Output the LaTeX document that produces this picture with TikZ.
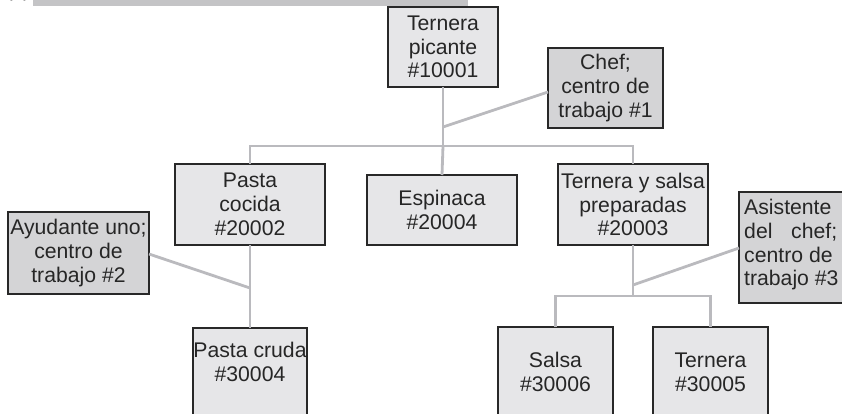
\documentclass[tikz,border=0pt]{standalone}
\usepackage{fontspec}
\setmainfont{Liberation Sans}
\definecolor{boxlight}{RGB}{230,230,232}
\definecolor{boxdark}{RGB}{212,212,214}
\definecolor{linegray}{RGB}{186,186,190}
\definecolor{bargray}{RGB}{196,196,198}
\definecolor{edgegray}{RGB}{40,40,40}
\tikzset{
  x=1pt, y=-1pt,
  itembox/.style={draw=edgegray, line width=1.3pt, fill=boxlight},
  centerbox/.style={draw=edgegray, line width=1.3pt, fill=boxdark},
  boxtext/.style={font=\fontsize{21.2}{23.8}\selectfont, align=center, inner sep=0pt, text=black!85},
  link/.style={draw=linegray, line width=2.8pt}
}
\begin{document}
\begin{tikzpicture}
\useasboundingbox (0,0) rectangle (842,413);
% cropped header
\fill[bargray] (33,-5) rectangle (468,6);
\node[boxtext, anchor=south] (lbl) at (18,1.5) {(c)};
% boxes
\draw[itembox] (388,7) rectangle (498,87);
\node[boxtext] (tp) at (443,47) {Ternera\\picante\\\#10001};
\coordinate (tpB) at (443,87);
\draw[centerbox] (548,48) rectangle (663,128);
\node[boxtext] (chef) at (605.5,88) {Chef;\\centro de\\trabajo \#1};
\coordinate (chefW) at (548,92);

\draw[itembox] (175,164) rectangle (325,245);
\node[boxtext] (pc) at (250,204.5) {Pasta\\cocida\\\#20002};
\draw[itembox] (367,175) rectangle (517,245);
\node[boxtext] (esp) at (442,210) {Espinaca\\\#20004};
\draw[itembox] (558,164) rectangle (708,245);
\node[boxtext] (tys) at (633,204.5) {Ternera y salsa\\preparadas\\\#20003};

\draw[centerbox] (8,212) rectangle (149,294);
\node[boxtext] (ayu) at (78.5,253) {Ayudante uno;\\centro de\\trabajo \#2};
\coordinate (ayuE) at (149,254);

\draw[centerbox] (739,192) rectangle (900,303);
\node[boxtext, anchor=north west, align=left] (asis) at (744,199) {Asistente\\\makebox[93pt][s]{del chef;}\\centro de\\trabajo \#3};
\coordinate (asisW) at (739,248);

\draw[itembox] (193,328) rectangle (307,440);
\node[boxtext] (pcr) at (250,362) {Pasta cruda\\\#30004};
\draw[itembox] (498,327) rectangle (613,440);
\node[boxtext] (sal) at (555.5,372) {Salsa\\\#30006};
\draw[itembox] (653,327) rectangle (768,440);
\node[boxtext] (ter) at (710.5,372) {Ternera\\\#30005};

% connectors
\coordinate (j1) at (443,127);
\coordinate (bar1) at (443,146);
\draw[link] (tpB) -- (bar1);
\draw[link] (chefW) -- (j1);
\draw[link] (250,164) |- (bar1) -| (633,164);
\draw[link] (bar1) -- (442,175);

\coordinate (j2) at (250,288);
\draw[link] (250,245) -- (250,328);
\draw[link] (ayuE) -- (j2);

\coordinate (j3) at (633,285);
\coordinate (bar3) at (633,296);
\draw[link] (633,245) -- (bar3);
\draw[link] (asisW) -- (j3);
\draw[link] (555.5,327) |- (bar3) -| (710.5,327);
\end{tikzpicture}
\end{document}
